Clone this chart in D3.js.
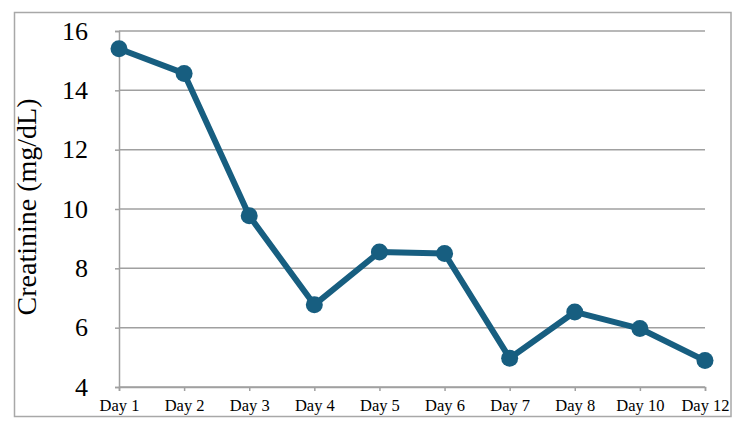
<!DOCTYPE html>
<html>
<head>
<meta charset="utf-8">
<script src="https://cdn.jsdelivr.net/npm/d3@7"></script>
<style>
  body { margin: 0; background: #fff; }
  svg { display: block; font-family: "Liberation Serif", "Times New Roman", serif; }
</style>
</head>
<body>
<div id="chart"></div>
<script>
const days = ["Day 1", "Day 2", "Day 3", "Day 4", "Day 5", "Day 6", "Day 7", "Day 8", "Day 10", "Day 12"];
const creatinine = [15.4, 14.57, 9.77, 6.77, 8.55, 8.5, 4.97, 6.53, 5.97, 4.89];
const yTicks = [4, 6, 8, 10, 12, 14, 16];

const width = 750;
const height = 430;
const margin = { top: 31, right: 45, bottom: 43, left: 119 };
const innerWidth = width - margin.left - margin.right;
const innerHeight = height - margin.top - margin.bottom;
const lineColor = "#175e80";
const gridColor = "#a0a0a0";

const svg = d3.select("#chart")
  .append("svg")
  .attr("width", width)
  .attr("height", height);

// outer frame
svg.append("rect")
  .attr("x", 14.5)
  .attr("y", 12.5)
  .attr("width", 716.5)
  .attr("height", 404)
  .attr("fill", "none")
  .attr("stroke", "#a8a8a8")
  .attr("stroke-width", 1.5);

const chartArea = svg.append("g")
  .attr("transform", `translate(${margin.left}, ${margin.top})`);

const x = d3.scalePoint().domain(days).range([0, innerWidth]);
const y = d3.scaleLinear().domain([4, 16]).range([innerHeight, 0]);

// gridlines
chartArea.append("g")
  .selectAll("line")
  .data(yTicks)
  .join("line")
  .attr("x1", 0)
  .attr("x2", innerWidth)
  .attr("y1", (d) => y(d))
  .attr("y2", (d) => y(d))
  .attr("stroke", gridColor)
  .attr("stroke-width", 1.5);

// y axis
const yAxis = chartArea.append("g")
  .call(d3.axisLeft(y).tickValues(yTicks).tickSize(4).tickPadding(27).tickFormat(d3.format("d")));
yAxis.select(".domain").attr("stroke", gridColor).attr("stroke-width", 1.5);
yAxis.selectAll(".tick line").attr("stroke", gridColor).attr("stroke-width", 1.5);
yAxis.selectAll("text")
  .attr("font-family", "Liberation Serif, Times New Roman, serif")
  .attr("font-size", 26)
  .attr("fill", "#000");

// x axis
const xAxis = chartArea.append("g")
  .attr("transform", `translate(0, ${innerHeight})`)
  .call(d3.axisBottom(x).tickSize(4).tickPadding(8));
xAxis.select(".domain").attr("stroke", gridColor).attr("stroke-width", 1.5);
xAxis.selectAll(".tick line").attr("stroke", gridColor).attr("stroke-width", 1.5);
xAxis.selectAll("text")
  .attr("font-family", "Liberation Serif, Times New Roman, serif")
  .attr("font-size", 16.5)
  .attr("fill", "#000");

// y title
svg.append("text")
  .attr("transform", "translate(36, 207) rotate(-90)")
  .attr("text-anchor", "middle")
  .attr("font-size", 28)
  .attr("fill", "#000")
  .text("Creatinine (mg/dL)");

// line
const line = d3.line()
  .x((d, i) => x(days[i]))
  .y((d) => y(d));

chartArea.append("path")
  .datum(creatinine)
  .attr("d", line)
  .attr("fill", "none")
  .attr("stroke", lineColor)
  .attr("stroke-width", 6)
  .attr("stroke-linejoin", "round");

chartArea.append("g")
  .selectAll("circle")
  .data(creatinine)
  .join("circle")
  .attr("cx", (d, i) => x(days[i]))
  .attr("cy", (d) => y(d))
  .attr("r", 8.5)
  .attr("fill", lineColor);
</script>
</body>
</html>
